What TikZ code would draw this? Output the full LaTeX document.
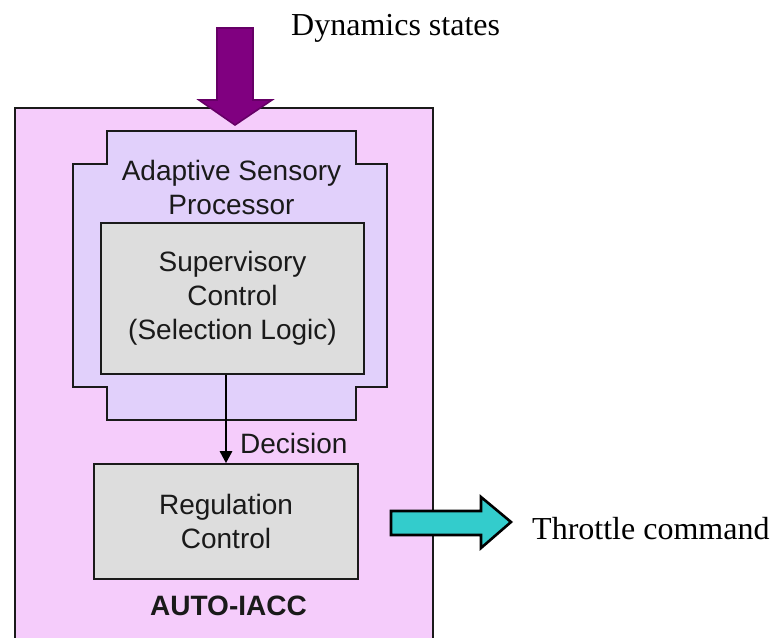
\documentclass[tikz,border=0pt]{standalone}
\usepackage{fontspec}
\setmainfont{Liberation Serif}
\setsansfont{Liberation Sans}
\usetikzlibrary{arrows.meta}
\definecolor{pinkbg}{HTML}{F5CCFB}
\definecolor{lavender}{HTML}{E1D0FB}
\definecolor{boxgray}{HTML}{DDDDDD}
\definecolor{plum}{HTML}{800080}
\definecolor{aqua}{HTML}{33CCCC}
\definecolor{ink}{HTML}{1A1A1A}
\tikzset{
  frame/.style={draw=ink, line width=1.4pt},
  graybox/.style={draw=ink, line width=1.6pt, fill=boxgray, rectangle,
    inner sep=0pt, align=center, text=ink,
    font=\sffamily\fontsize{28}{34}\selectfont},
  sanslabel/.style={inner sep=0pt, text=ink, align=center,
    font=\sffamily\fontsize{28}{34}\selectfont},
  seriflabel/.style={inner sep=0pt, text=black,
    font=\rmfamily\fontsize{32}{38}\selectfont},
  flow/.style={draw=black, line width=2.6pt,
    -{Triangle[length=12pt, width=12pt]}},
  blockarrow/.style={line width=1.6pt, line join=miter}
}
\begin{document}
\begin{tikzpicture}[x=1pt, y=-1pt]
\useasboundingbox (0,0) rectangle (773,637);

% outer AUTO-IACC frame (runs on past the lower edge)
\coordinate (outerNW) at (15,108);
\coordinate (outerNE) at (433,108);
\fill[pinkbg] (15,108) rectangle (433,640);
\draw[frame] (15,640) -- (outerNW) -- (outerNE) -- (433,640);

% stepped outline of the adaptive sensory processor
\draw[frame, fill=lavender, line width=1.6pt]
  (107,131) -- (356,131) -- (356,164) -- (387,164) -- (387,387)
  -- (356,387) -- (356,420) -- (107,420) -- (107,387) -- (73,387)
  -- (73,164) -- (107,164) -- cycle;
\node[sanslabel] (asp) at (231.5,187) {Adaptive Sensory\\Processor};

% inner blocks
\node[graybox, minimum width=263pt, minimum height=151pt] (sup)
  at (232.5,298.5) {Supervisory\\Control\\(Selection Logic)};
\node[graybox, minimum width=264pt, minimum height=115pt] (reg)
  at (226,521.5) {Regulation\\Control};

\draw[flow] (reg.north |- sup.south) -- (reg.north);
\node[sanslabel, anchor=base west] (dec) at (240,453) {Decision};

\node[sanslabel, anchor=base, font=\sffamily\bfseries\fontsize{28}{34}\selectfont]
  (title) at (228.5,615) {AUTO-IACC};

% input block arrow
\coordinate (inTip) at (235,125);
\filldraw[blockarrow, fill=plum, draw=plum!80!black]
  (217,28) -- (253,28) -- (253,100) -- (272,100) -- (inTip)
  -- (199,100) -- (217,100) -- cycle;
\node[seriflabel, anchor=base west] (dyn) at (291,35) {Dynamics states};

% output block arrow
\coordinate (outTip) at (511,522);
\filldraw[blockarrow, fill=aqua, draw=black, line width=2.6pt]
  (391,511) -- (481,511) -- (481,497) -- (outTip) -- (481,548)
  -- (481,535) -- (391,535) -- cycle;
\node[seriflabel, anchor=base west] (thr) at (532,539) {Throttle command};
\end{tikzpicture}
\end{document}
